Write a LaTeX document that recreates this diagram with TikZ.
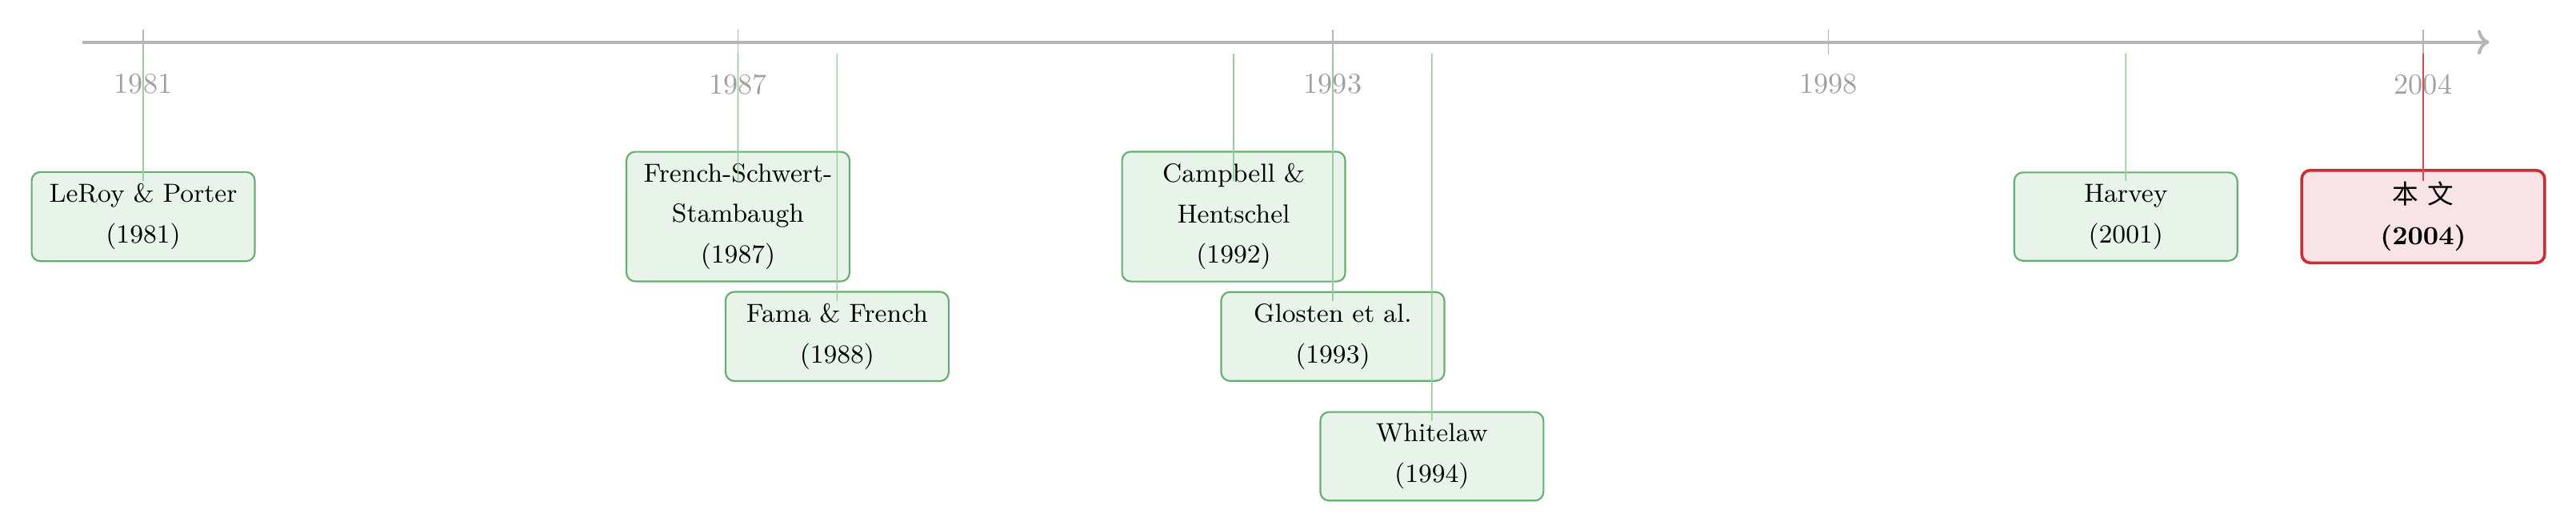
\documentclass[tikz,border=0pt]{standalone}
\usepackage{fontspec}
\newfontfamily\cjkfont{Noto Sans CJK SC}
\usetikzlibrary{arrows.meta,positioning,calc}
\definecolor{axisgray}{RGB}{182,182,182}
\definecolor{yeargray}{RGB}{160,160,160}
\definecolor{boxgreen}{RGB}{100,176,112}
\definecolor{fillgreen}{RGB}{232,243,234}
\definecolor{linkgreen}{RGB}{150,206,160}
\definecolor{boxred}{RGB}{206,44,48}
\definecolor{fillred}{RGB}{248,228,230}
\tikzset{
  paper/.style={draw=boxgreen, fill=fillgreen, rounded corners=3pt, align=center,
                text width=2.42cm, inner sep=4pt, line width=0.6pt,
                font=\fontsize{9}{14}\selectfont},
  ours/.style={paper, draw=boxred, fill=fillred, line width=1pt, text width=2.66cm},
  link/.style={draw=linkgreen, line width=0.45pt},
  linkours/.style={draw=boxred!85, line width=0.45pt},
  yrlbl/.style={text=yeargray, font=\normalsize, inner sep=1pt},
  yrtick/.style={draw=axisgray, line width=0.5pt},
}

\begin{document}
\begin{tikzpicture}
    \useasboundingbox (-1.734,0.51) rectangle (29.45,-5.892);
    % time axis
    \coordinate (ax0) at (-0.74,0);
    \coordinate (ax1) at (28.4,0);
    \draw[draw=axisgray, line width=1.1pt, ->] (ax0) -- (ax1);
    \foreach \yr in {1981,1987,1993,1998,2004}{
      \pgfmathsetmacro{\xx}{(\yr-1981)*1.2}
      \draw[yrtick] (\xx,0.15) -- (\xx,-0.15);
      \node[yrlbl] (y\yr) at (\xx,-0.51) {\yr};
    }
    % papers
    \node[paper] (leroy) at (0,-2.11) {LeRoy \& Porter\\(1981)};
    \node[paper] (fss) at (7.2,-2.11) {French-Schwert-\\Stambaugh\\(1987)};
    \node[paper] (fama) at (8.4,-3.56) {Fama \& French\\(1988)};
    \node[paper] (camp) at (13.2,-2.11) {Campbell \&\\Hentschel\\(1992)};
    \node[paper] (glosten) at (14.4,-3.56) {Glosten et al.\\(1993)};
    \node[paper] (white) at (15.6,-5.01) {Whitelaw\\(1994)};
    \node[paper] (harvey) at (24,-2.11) {Harvey\\(2001)};
    \node[ours] (benwen) at (27.6,-2.11) {{\cjkfont 本\ 文}\\\textbf{(2004)}};
    % links from the axis
    \foreach \nd/\yr in {leroy/1981,fss/1987,fama/1988,camp/1992,glosten/1993,white/1994,harvey/2001}{
      \coordinate (e-\nd) at ({(\yr-1981)*1.2},-0.14);
      \draw[link] (e-\nd) -- ([yshift=4.3mm]\nd.center);
    }
    \coordinate (e-benwen) at (27.6,-0.14);
    \draw[linkours] (e-benwen) -- ([yshift=4.3mm]benwen.center);
\end{tikzpicture}
\end{document}
